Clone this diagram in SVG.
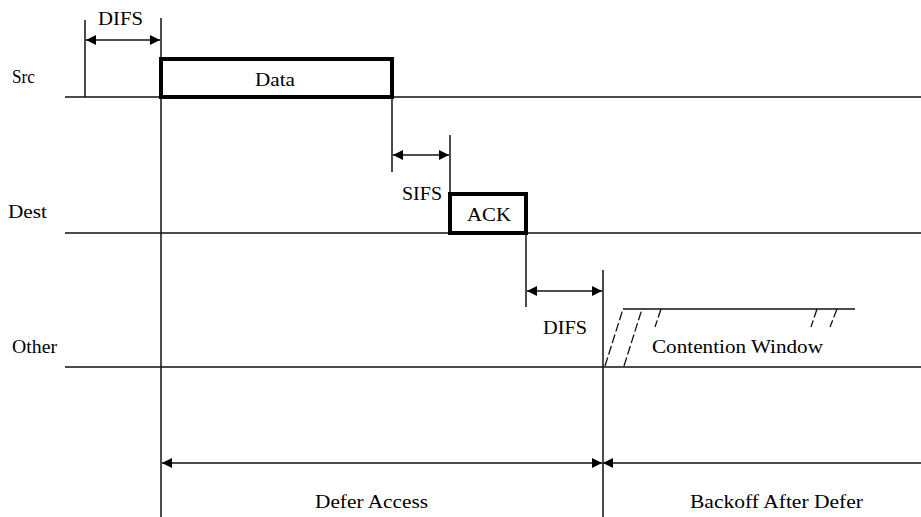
<svg xmlns="http://www.w3.org/2000/svg" width="921" height="517" viewBox="0 0 921 517">
<style>
.ln{stroke:#111;stroke-width:1.5;fill:none}
.box{stroke:#000;stroke-width:4;fill:#fff}
.dash{stroke:#111;stroke-width:1.3;fill:none;stroke-dasharray:9 3}
.t{font-family:"Liberation Serif",serif;font-size:18px;fill:#000}
.dim{stroke:#111;stroke-width:1.5;fill:none;marker-start:url(#ah);marker-end:url(#ah)}
</style>
<defs>
<marker id="ah" viewBox="0 0 10 10" refX="10" refY="5" markerWidth="10" markerHeight="10" markerUnits="userSpaceOnUse" orient="auto-start-reverse">
<path d="M0,0 L10,5 L0,10 Z" fill="#000"/>
</marker>
</defs>
<rect width="921" height="517" fill="#fff"/>
<g id="timelines">
<line class="ln" x1="65" y1="97" x2="921" y2="97"/>
<line class="ln" x1="65" y1="233" x2="921" y2="233"/>
<line class="ln" x1="65" y1="367" x2="921" y2="367"/>
<text class="t" x="12" y="83" textLength="23" lengthAdjust="spacingAndGlyphs">Src</text>
<text class="t" x="8" y="218" textLength="39" lengthAdjust="spacingAndGlyphs">Dest</text>
<text class="t" x="12" y="353" textLength="45" lengthAdjust="spacingAndGlyphs">Other</text>
</g>
<g id="connectors">
<line class="ln" x1="85" y1="20" x2="85" y2="97"/>
<line class="ln" x1="161" y1="18" x2="161" y2="517"/>
<line class="dim" x1="86" y1="40" x2="160" y2="40"/>
<line class="ln" x1="392" y1="97" x2="392" y2="172"/>
<line class="ln" x1="450" y1="135" x2="450" y2="233"/>
<line class="dim" x1="393" y1="155" x2="449" y2="155"/>
<line class="ln" x1="526" y1="233" x2="526" y2="307"/>
<line class="ln" x1="603" y1="270" x2="603" y2="517"/>
<line class="dim" x1="527" y1="291" x2="602" y2="291"/>
<line class="dim" x1="162" y1="463" x2="602" y2="463"/>
<line class="ln" x1="603" y1="463" x2="921" y2="463" style="marker-start:url(#ah)"/>
</g>
<g id="data">
<rect class="box" x="161" y="59" width="231" height="38"/>
<text class="t" x="255" y="86" textLength="40" lengthAdjust="spacingAndGlyphs">Data</text>
</g>
<g id="ack">
<rect class="box" x="450" y="194" width="76" height="39"/>
<text class="t" x="467" y="221" textLength="44" lengthAdjust="spacingAndGlyphs">ACK</text>
</g>
<g id="contention">
<line class="ln" x1="623" y1="309" x2="855" y2="309"/>
<line class="dash" x1="605" y1="366" x2="623" y2="309"/>
<line class="dash" x1="624" y1="366" x2="642" y2="309"/>
<line class="dash" x1="661" y1="309" x2="655" y2="327"/>
<line class="dash" x1="817" y1="309" x2="811" y2="327"/>
<line class="dash" x1="837" y1="309" x2="830" y2="327"/>
<text class="t" x="652" y="353" textLength="171" lengthAdjust="spacingAndGlyphs">Contention Window</text>
</g>
<g id="labels">
<text class="t" x="98" y="25" textLength="45" lengthAdjust="spacingAndGlyphs">DIFS</text>
<text class="t" x="402" y="200" textLength="40" lengthAdjust="spacingAndGlyphs">SIFS</text>
<text class="t" x="543" y="334" textLength="44" lengthAdjust="spacingAndGlyphs">DIFS</text>
<text class="t" x="315" y="508" textLength="113" lengthAdjust="spacingAndGlyphs">Defer Access</text>
<text class="t" x="690" y="508" textLength="173" lengthAdjust="spacingAndGlyphs">Backoff After Defer</text>
</g>
</svg>
